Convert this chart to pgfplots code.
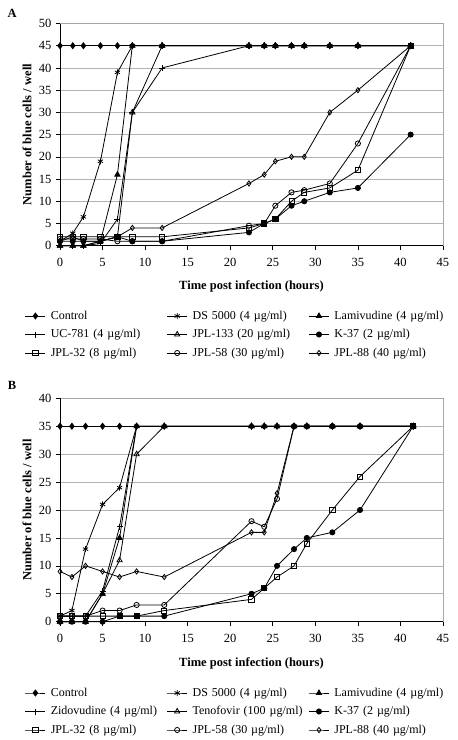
\documentclass[border=0pt]{standalone}
\usepackage{pgfplots}
\pgfplotsset{compat=1.18}
\usepackage{fontspec}
\setmainfont{Liberation Serif}
\pgfplotsset{
  panel/.style={
    scale only axis, width=383pt,
    xmin=0, xmax=45, xtick={0,5,...,45},
    ymin=0,
    clip=false,
    axis line style={draw=gray!70, line width=0.6pt},
    ymajorgrids, grid style={gray!60, line width=0.6pt},
    tick align=outside, xtick pos=left, ytick pos=left,
    major tick length=4pt, tick style={black, line width=0.6pt},
    /pgf/number format/assume math mode=true,
    tick label style={font=\fontsize{12.5}{14}\selectfont},
    xticklabel style={yshift=-5pt},
    yticklabel style={xshift=-1pt},
    every axis y label/.style={at={(axis description cs:-0.0862,0.5)}, rotate=90, anchor=center, font=\fontsize{12.5}{14}\selectfont\bfseries},
    xlabel={Time post infection (hours)},
    ylabel={Number of blue cells / well},
    every axis plot/.append style={black, line width=0.8pt, mark size=2.6pt},
    legend columns=3,
    legend cell align=left,
    legend image code/.code={\draw[mark repeat=2, mark phase=2, #1] plot coordinates {(0pt,0pt) (10pt,0pt) (20pt,0pt)};},
    legend style={draw=none, fill=none, inner sep=0pt, outer sep=0pt, anchor=north west,
      font=\fontsize{12}{14}\selectfont,
      nodes={text width=114pt, inner xsep=2pt, inner ysep=0pt, text height=9pt, text depth=3pt, font=\fontsize{12}{14}\selectfont},
      row sep=6.5pt, column sep=0pt,
      /tikz/every odd column/.append style={column sep=3pt}},
    after end axis/.code={\draw[black, line width=0.8pt] (rel axis cs:0,1) -- (rel axis cs:0,0) -- (rel axis cs:1,0);},
  },
  openmark/.style={mark options={solid, fill=white}},
}
\begin{document}
\begin{tikzpicture}
\useasboundingbox (0pt,0pt) rectangle (458pt,-740pt);
% ---------------- Panel A ----------------
\begin{axis}[panel, at={(60pt,-245.7pt)}, anchor=south west, height=222.2pt,
  ymax=50, ytick={0,5,...,50},
  every axis x label/.style={at={(axis description cs:0.5,-0.1814)}, anchor=center, font=\fontsize{12.5}{14}\selectfont\bfseries},
  legend style={at={(axis description cs:-0.0914,-0.2894)}}]
\addplot[mark=diamond*, mark size=3pt] coordinates {(0,45)(1.5,45)(2.75,45)(4.75,45)(6.75,45)(8.5,45)(12,45)(22.2,45)(24,45)(25.3,45)(27.2,45)(28.7,45)(31.7,45)(35,45)(41.2,45)};
\addlegendentry{Control}
\addplot[mark=asterisk, mark size=3pt] coordinates {(0,1)(1.5,2.8)(2.75,6.5)(4.75,19)(6.75,39)(8.5,45)(12,45)(22.2,45)(24,45)(25.3,45)(27.2,45)(28.7,45)(31.7,45)(35,45)(41.2,45)};
\addlegendentry{DS 5000 (4 µg/ml)}
\addplot[mark=triangle*, mark size=3pt] coordinates {(0,0)(1.5,0)(2.75,0)(4.75,1)(6.75,16)(8.5,45)(12,45)(22.2,45)(24,45)(25.3,45)(27.2,45)(28.7,45)(31.7,45)(35,45)(41.2,45)};
\addlegendentry{Lamivudine (4 µg/ml)}
\addplot[mark=+, mark size=3pt] coordinates {(0,0)(1.5,0)(2.75,0)(4.75,0.5)(6.75,6)(8.5,30)(12,40)(22.2,45)(24,45)(25.3,45)(27.2,45)(28.7,45)(31.7,45)(35,45)(41.2,45)};
\addlegendentry{UC-781 (4 µg/ml)}
\addplot[mark=triangle, mark size=3pt, openmark] coordinates {(0,0)(1.5,0)(2.75,0)(4.75,1)(6.75,2)(8.5,30)(12,45)(22.2,45)(24,45)(25.3,45)(27.2,45)(28.7,45)(31.7,45)(35,45)(41.2,45)};
\addlegendentry{JPL-133 (20 µg/ml)}
\addplot[mark=*] coordinates {(0,1)(1.5,1)(2.75,1)(4.75,1)(6.75,2)(8.5,1)(12,1)(22.2,3)(24,5)(25.3,6)(27.2,9)(28.7,10)(31.7,12)(35,13)(41.2,25)};
\addlegendentry{K-37 (2 µg/ml)}
\addplot[mark=square, openmark] coordinates {(0,2)(1.5,2)(2.75,2)(4.75,2)(6.75,2)(8.5,2)(12,2)(22.2,4)(24,5)(25.3,6)(27.2,10)(28.7,12)(31.7,13)(35,17)(41.2,45)};
\addlegendentry{JPL-32 (8 µg/ml)}
\addplot[mark=o, openmark] coordinates {(0,1.5)(1.5,1.5)(2.75,1.5)(4.75,1.5)(6.75,1)(8.5,1)(12,1)(22.2,4.5)(24,5)(25.3,9)(27.2,12)(28.7,12.5)(31.7,14)(35,23)(41.2,45)};
\addlegendentry{JPL-58 (30 µg/ml)}
\addplot[mark=diamond, openmark] coordinates {(0,1)(1.5,2)(2.75,1)(4.75,1)(6.75,2)(8.5,4)(12,4)(22.2,14)(24,16)(25.3,19)(27.2,20)(28.7,20)(31.7,30)(35,35)(41.2,45)};
\addlegendentry{JPL-88 (40 µg/ml)}
\node[font=\fontsize{12.5}{14}\selectfont\bfseries] at (axis description cs:-0.125,1.047) {A};
\end{axis}
% ---------------- Panel B ----------------
\begin{axis}[panel, at={(60pt,-621.7pt)}, anchor=south west, height=223.4pt,
  ymax=40, ytick={0,5,...,40},
  every axis x label/.style={at={(axis description cs:0.5,-0.185)}, anchor=center, font=\fontsize{12.5}{14}\selectfont\bfseries},
  legend style={at={(axis description cs:-0.0914,-0.2923)}}]
\addplot[mark=diamond*, mark size=3pt] coordinates {(0,35)(1.4,35)(3,35)(5,35)(7,35)(9,35)(12.25,35)(22.5,35)(24,35)(25.5,35)(27.5,35)(29,35)(32,35)(35.25,35)(41.5,35)};
\addlegendentry{Control}
\addplot[mark=asterisk, mark size=3pt] coordinates {(0,1)(1.4,2)(3,13)(5,21)(7,24)(9,35)(12.25,35)(22.5,35)(24,35)(25.5,35)(27.5,35)(29,35)(32,35)(35.25,35)(41.5,35)};
\addlegendentry{DS 5000 (4 µg/ml)}
\addplot[mark=triangle*, mark size=3pt] coordinates {(0,0)(1.4,0)(3,0)(5,5)(7,15)(9,35)(12.25,35)(22.5,35)(24,35)(25.5,35)(27.5,35)(29,35)(32,35)(35.25,35)(41.5,35)};
\addlegendentry{Lamivudine (4 µg/ml)}
\addplot[mark=+, mark size=3pt] coordinates {(0,1)(1.4,1)(3,1)(5,5.5)(7,17)(9,35)(12.25,35)(22.5,35)(24,35)(25.5,35)(27.5,35)(29,35)(32,35)(35.25,35)(41.5,35)};
\addlegendentry{Zidovudine (4 µg/ml)}
\addplot[mark=triangle, mark size=3pt, openmark] coordinates {(0,0)(1.4,0)(3,0)(5,5)(7,11)(9,30)(12.25,35)(22.5,35)(24,35)(25.5,35)(27.5,35)(29,35)(32,35)(35.25,35)(41.5,35)};
\addlegendentry{Tenofovir (100 µg/ml)}
\addplot[mark=*] coordinates {(0,0)(1.4,0)(3,0)(5,0)(7,1)(9,1)(12.25,1)(22.5,5)(24,6)(25.5,10)(27.5,13)(29,15)(32,16)(35.25,20)(41.5,35)};
\addlegendentry{K-37 (2 µg/ml)}
\addplot[mark=square, openmark] coordinates {(0,1)(1.4,1)(3,1)(5,1)(7,1)(9,1)(12.25,2)(22.5,4)(24,6)(25.5,8)(27.5,10)(29,14)(32,20)(35.25,26)(41.5,35)};
\addlegendentry{JPL-32 (8 µg/ml)}
\addplot[mark=o, openmark] coordinates {(0,1)(1.4,1)(3,1)(5,2)(7,2)(9,3)(12.25,3)(22.5,18)(24,17)(25.5,22)(27.5,35)(29,35)(32,35)(35.25,35)(41.5,35)};
\addlegendentry{JPL-58 (30 µg/ml)}
\addplot[mark=diamond, openmark] coordinates {(0,9)(1.4,8)(3,10)(5,9)(7,8)(9,9)(12.25,8)(22.5,16)(24,16)(25.5,23)(27.5,35)(29,35)(32,35)(35.25,35)(41.5,35)};
\addlegendentry{JPL-88 (40 µg/ml)}
\node[font=\fontsize{12.5}{14}\selectfont\bfseries] at (axis description cs:-0.125,1.0595) {B};
\end{axis}
\end{tikzpicture}
\end{document}
